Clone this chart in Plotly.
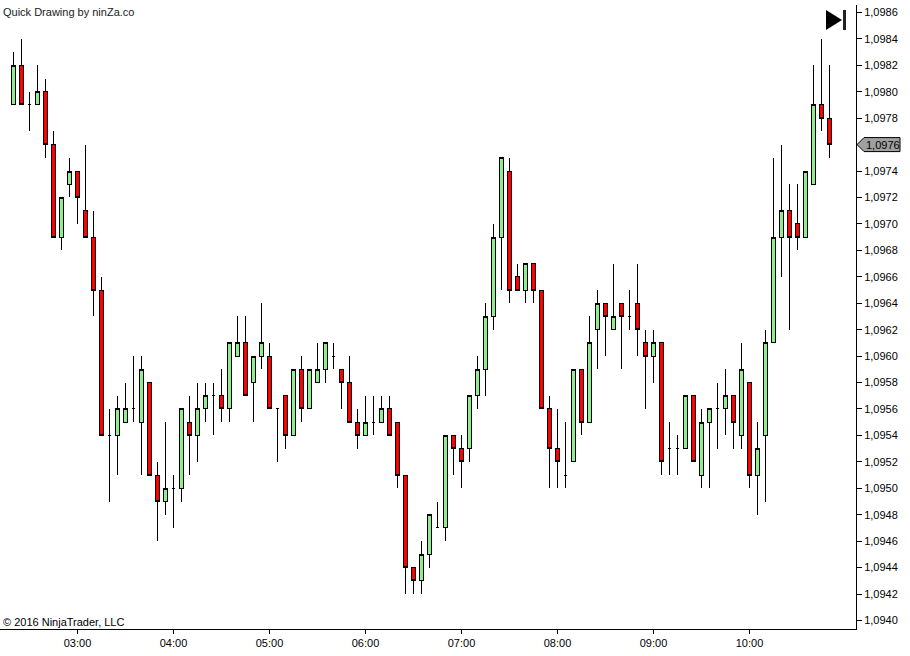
import pandas as pd
import plotly.graph_objects as go

# 5 minute bars
opens = [
    1.0979, 1.0982, 1.0979, 1.0979, 1.0980, 1.0976, 1.0969, 1.0973, 1.0974, 1.0971, 1.0969, 1.0965,
    1.0954, 1.0954, 1.0955, 1.0956, 1.0955, 1.0958, 1.0951, 1.0949, 1.0950, 1.0950, 1.0955, 1.0954,
    1.0956, 1.0957, 1.0957, 1.0956, 1.0960, 1.0961, 1.0958, 1.0960, 1.0960, 1.0956, 1.0957, 1.0954,
    1.0959, 1.0956, 1.0958, 1.0959, 1.0960, 1.0959, 1.0958, 1.0955, 1.0954, 1.0955, 1.0955, 1.0956,
    1.0955, 1.0951, 1.0944, 1.0943, 1.0945, 1.0947, 1.0947, 1.0954, 1.0953, 1.0953, 1.0957, 1.0959,
    1.0963, 1.0969, 1.0974, 1.0966, 1.0965, 1.0967, 1.0965, 1.0956, 1.0953, 1.0951, 1.0952, 1.0959,
    1.0955, 1.0962, 1.0964, 1.0962, 1.0964, 1.0963, 1.0964, 1.0961, 1.0960, 1.0961, 1.0953, 1.0953,
    1.0953, 1.0957, 1.0951, 1.0955, 1.0956, 1.0956, 1.0957, 1.0954, 1.0958, 1.0951, 1.0954, 1.0961,
    1.0969, 1.0971, 1.0970, 1.0969, 1.0973, 1.0979, 1.0978,
]
highs = [
    1.0983, 1.0984, 1.0980, 1.0982, 1.0981, 1.0977, 1.0972, 1.0975, 1.0974, 1.0976, 1.0971, 1.0966,
    1.0956, 1.0957, 1.0958, 1.0960, 1.0960, 1.0958, 1.0952, 1.0955, 1.0951, 1.0956, 1.0957, 1.0958,
    1.0958, 1.0958, 1.0959, 1.0961, 1.0963, 1.0963, 1.0960, 1.0964, 1.0961, 1.0956, 1.0957, 1.0959,
    1.0960, 1.0959, 1.0961, 1.0961, 1.0961, 1.0959, 1.0960, 1.0956, 1.0957, 1.0957, 1.0957, 1.0957,
    1.0955, 1.0951, 1.0944, 1.0946, 1.0948, 1.0949, 1.0954, 1.0954, 1.0954, 1.0957, 1.0960, 1.0964,
    1.0970, 1.0975, 1.0975, 1.0967, 1.0967, 1.0967, 1.0965, 1.0957, 1.0956, 1.0955, 1.0959, 1.0959,
    1.0963, 1.0965, 1.0964, 1.0967, 1.0964, 1.0965, 1.0967, 1.0962, 1.0962, 1.0961, 1.0955, 1.0954,
    1.0957, 1.0957, 1.0956, 1.0956, 1.0958, 1.0959, 1.0957, 1.0961, 1.0958, 1.0955, 1.0962, 1.0975,
    1.0976, 1.0973, 1.0973, 1.0974, 1.0982, 1.0984, 1.0982,
]
lows = [
    1.0979, 1.0979, 1.0977, 1.0979, 1.0975, 1.0969, 1.0968, 1.0972, 1.0970, 1.0969, 1.0963, 1.0954,
    1.0949, 1.0951, 1.0955, 1.0955, 1.0951, 1.0951, 1.0946, 1.0948, 1.0947, 1.0949, 1.0951, 1.0952,
    1.0955, 1.0954, 1.0955, 1.0955, 1.0960, 1.0957, 1.0955, 1.0959, 1.0956, 1.0952, 1.0953, 1.0954,
    1.0955, 1.0956, 1.0958, 1.0958, 1.0959, 1.0956, 1.0955, 1.0953, 1.0954, 1.0954, 1.0955, 1.0954,
    1.0950, 1.0942, 1.0942, 1.0942, 1.0944, 1.0947, 1.0946, 1.0951, 1.0950, 1.0952, 1.0956, 1.0957,
    1.0962, 1.0965, 1.0964, 1.0965, 1.0964, 1.0964, 1.0956, 1.0950, 1.0950, 1.0950, 1.0952, 1.0954,
    1.0955, 1.0959, 1.0960, 1.0962, 1.0959, 1.0962, 1.0960, 1.0956, 1.0958, 1.0951, 1.0951, 1.0951,
    1.0953, 1.0952, 1.0950, 1.0950, 1.0953, 1.0954, 1.0953, 1.0953, 1.0950, 1.0948, 1.0949, 1.0961,
    1.0966, 1.0962, 1.0968, 1.0969, 1.0973, 1.0977, 1.0975,
]
closes = [
    1.0982, 1.0979, 1.0979, 1.0980, 1.0976, 1.0969, 1.0972, 1.0974, 1.0972, 1.0969, 1.0965, 1.0954,
    1.0954, 1.0956, 1.0956, 1.0956, 1.0959, 1.0951, 1.0949, 1.0950, 1.0950, 1.0956, 1.0954, 1.0956,
    1.0957, 1.0957, 1.0956, 1.0961, 1.0961, 1.0957, 1.0960, 1.0961, 1.0956, 1.0956, 1.0954, 1.0959,
    1.0956, 1.0959, 1.0959, 1.0961, 1.0960, 1.0958, 1.0955, 1.0954, 1.0955, 1.0955, 1.0956, 1.0954,
    1.0951, 1.0944, 1.0943, 1.0945, 1.0948, 1.0947, 1.0954, 1.0953, 1.0952, 1.0957, 1.0959, 1.0963,
    1.0969, 1.0975, 1.0965, 1.0965, 1.0967, 1.0965, 1.0956, 1.0953, 1.0952, 1.0951, 1.0959, 1.0955,
    1.0961, 1.0964, 1.0963, 1.0963, 1.0963, 1.0963, 1.0962, 1.0960, 1.0961, 1.0952, 1.0953, 1.0953,
    1.0957, 1.0952, 1.0955, 1.0956, 1.0956, 1.0957, 1.0955, 1.0959, 1.0951, 1.0953, 1.0961, 1.0969,
    1.0971, 1.0969, 1.0969, 1.0974, 1.0979, 1.0978, 1.0976,
]
times = pd.date_range("2016-01-04 02:20", periods=len(opens), freq="5min")

x_ticks = ["2016-01-04 03:00", "2016-01-04 04:00", "2016-01-04 05:00", "2016-01-04 06:00",
           "2016-01-04 07:00", "2016-01-04 08:00", "2016-01-04 09:00", "2016-01-04 10:00"]
x_labels = ["03:00", "04:00", "05:00", "06:00", "07:00", "08:00", "09:00", "10:00"]

y_ticks = [1.0940, 1.0942, 1.0944, 1.0946, 1.0948, 1.0950, 1.0952, 1.0954, 1.0956, 1.0958, 1.0960, 1.0962,
           1.0964, 1.0966, 1.0968, 1.0970, 1.0972, 1.0974, 1.0976, 1.0978, 1.0980, 1.0982, 1.0984, 1.0986]
last_price = closes[-1]
# the last price tag sits on top of its own tick, so that label stays empty
y_labels = ["" if t == last_price else f"{t:.4f}".replace(".", ",") for t in y_ticks]

font = "Liberation Sans"

fig = go.Figure()
fig.add_trace(go.Candlestick(
    x=times, open=opens, high=highs, low=lows, close=closes,
    increasing=dict(line=dict(color="black", width=1), fillcolor="#90EE90"),
    decreasing=dict(line=dict(color="black", width=1), fillcolor="#FF0000"),
    whiskerwidth=0,
    showlegend=False,
))

fig.update_layout(
    width=910, height=656,
    margin=dict(l=0, r=54, t=5, b=27, pad=0),
    paper_bgcolor="white", plot_bgcolor="white",
    font=dict(family=font, size=11, color="black"),
    showlegend=False,
)
fig.update_xaxes(
    type="date",
    range=["2016-01-04 02:11:33.75", "2016-01-04 11:06:33.75"],
    rangeslider_visible=False,
    tickvals=x_ticks, ticktext=x_labels,
    ticks="outside", ticklen=4, tickwidth=1, tickcolor="black",
    showline=True, linecolor="black", linewidth=1,
    showgrid=False, zeroline=False,
)
fig.update_yaxes(
    side="right",
    range=[1.09393547, 1.098656],
    tickvals=y_ticks, ticktext=y_labels,
    ticks="outside", ticklen=5, tickwidth=1, tickcolor="black",
    showline=True, linecolor="black", linewidth=1,
    showgrid=False, zeroline=False,
)

# header, footer
fig.add_annotation(text="Quick Drawing by ninZa.co", xref="paper", yref="paper", x=0, y=1,
                   xanchor="left", yanchor="middle", xshift=1, yshift=-7, showarrow=False,
                   font=dict(size=11, color="#1a1a1a"))
fig.add_annotation(text="© 2016 NinjaTrader, LLC", xref="paper", yref="paper", x=0, y=0,
                   xanchor="left", yanchor="middle", xshift=1, yshift=7, showarrow=False,
                   font=dict(size=11, color="black"))

# last price tag on the axis
fig.add_shape(type="path", xref="paper", yref="y", xsizemode="pixel", ysizemode="pixel",
              xanchor=1, yanchor=last_price, layer="above",
              path="M 1 0 L 8 -7 L 44 -7 L 44 7 L 8 7 Z",
              fillcolor="#A0A0A0", line=dict(color="black", width=1))
fig.add_annotation(text=f"{last_price:.4f}".replace(".", ","), xref="paper", yref="y", x=1, y=last_price,
                   xanchor="left", yanchor="middle", xshift=8, showarrow=False,
                   font=dict(size=11, color="black"))

# skip-to-end button top right
fig.add_shape(type="path", xref="paper", yref="paper", xsizemode="pixel", ysizemode="pixel",
              xanchor=1, yanchor=1, layer="above",
              path="M -30 -5 L -14 -15 L -30 -25 Z",
              fillcolor="black", line=dict(color="black", width=0))
fig.add_shape(type="path", xref="paper", yref="paper", xsizemode="pixel", ysizemode="pixel",
              xanchor=1, yanchor=1, layer="above",
              path="M -13 -5 L -10 -5 L -10 -25 L -13 -25 Z",
              fillcolor="#222222", line=dict(color="#222222", width=0))

# no margin round the plot, hard pixel edges on the candles
post = """
document.body.style.margin = '0';
document.querySelectorAll('.boxlayer path').forEach(function (p) { p.style.shapeRendering = 'crispEdges'; });
"""
fig.write_html("out.html", config={"displayModeBar": False}, post_script=post)
